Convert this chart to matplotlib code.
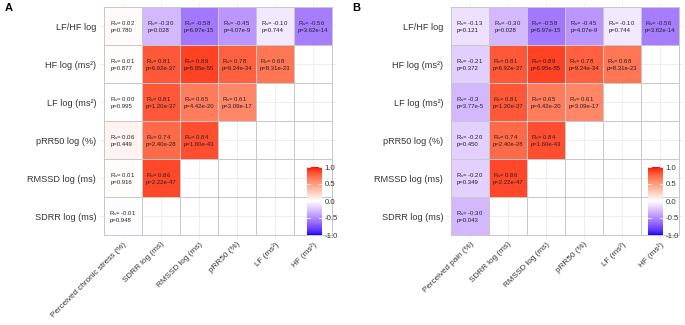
import numpy as np
import matplotlib
matplotlib.use('Agg')
import matplotlib.pyplot as plt
from matplotlib.colors import ListedColormap

plt.rcParams['font.family'] = ['Liberation Sans', 'DejaVu Sans']

# rows top -> bottom
row_labels = ['LF/HF log', 'HF log (ms²)', 'LF log (ms²)', 'pRR50 log (%)',
              'RMSSD log (ms)', 'SDRR log (ms)']
col_labels_a = ['Perceived chronic stress (%)', 'SDRR log (ms)', 'RMSSD log (ms)',
                'pRR50 (%)', 'LF (ms²)', 'HF (ms²)']
col_labels_b = ['Perceived pain (%)', 'SDRR log (ms)', 'RMSSD log (ms)',
                'pRR50 (%)', 'LF (ms²)', 'HF (ms²)']

# HRV x HRV part (same in both panels), row by row
r_hrv = [['-0.30', '-0.58', '-0.45', '-0.10', '-0.56'],
         ['0.81', '0.89', '0.78', '0.68'],
         ['0.81', '0.65', '0.61'],
         ['0.74', '0.84'],
         ['0.86'],
         []]
p_hrv = [['0.028', '6.97e-15', '4.07e-9', '0.744', '3.62e-14'],
         ['6.92e-37', '6.95e-55', '9.24e-34', '8.31e-23'],
         ['1.20e-37', '4.42e-20', '3.09e-17'],
         ['2.40e-28', '1.60e-43'],
         ['2.22e-47'],
         []]

# first column
r_stress = ['0.02', '0.01', '0.00', '0.06', '0.01', '-0.01']
p_stress = ['0.780', '0.877', '0.995', '0.449', '0.916', '0.948']
r_pain = ['-0.13', '-0.21', '-0.3', '-0.20', '-0.20', '-0.30']
p_pain = ['0.121', '0.372', '3.77e-5', '0.450', '0.349', '0.043']


# blue - white - red gradient interpolated in Lab (like ggplot gradient2)
def srgb2lab(c):
    c = np.asarray(c, float)
    lin = np.where(c <= 0.04045, c / 12.92, ((c + 0.055) / 1.055) ** 2.4)
    M = np.array([[0.4124, 0.3576, 0.1805], [0.2126, 0.7152, 0.0722], [0.0193, 0.1192, 0.9505]])
    xyz = M @ lin / np.array([0.95047, 1.0, 1.08883])
    f = np.where(xyz > 0.008856, np.cbrt(xyz), 7.787 * xyz + 16 / 116)
    return np.array([116 * f[1] - 16, 500 * (f[0] - f[1]), 200 * (f[1] - f[2])])


def lab2srgb(lab):
    L, a, b = lab
    fy = (L + 16) / 116
    fx = fy + a / 500
    fz = fy - b / 200
    f = np.array([fx, fy, fz])
    xyz = np.where(f ** 3 > 0.008856, f ** 3, (f - 16 / 116) / 7.787) * np.array([0.95047, 1.0, 1.08883])
    Mi = np.array([[3.2406, -1.5372, -0.4986], [-0.9689, 1.8758, 0.0415], [0.0557, -0.2040, 1.0570]])
    lin = np.clip(Mi @ xyz, 0, 1)
    c = np.where(lin <= 0.0031308, 12.92 * lin, 1.055 * lin ** (1 / 2.4) - 0.055)
    return np.clip(c, 0, 1)


blue, white, red = srgb2lab([0, 0, 1]), srgb2lab([1, 1, 1]), srgb2lab([1, 0, 0])
cols = []
for t in np.linspace(-1, 1, 256):
    if t < 0:
        lab = white + (blue - white) * (-t)
    else:
        lab = white + (red - white) * t
    cols.append(lab2srgb(lab))
cmap = ListedColormap(cols)

W, H = 685, 325
fig = plt.figure(figsize=(W / 100, H / 100), dpi=100)
txt_col = '#333333'


def panel(tile_left, cbar_left, first_r, first_p, col_labels, tag):
    cell = 38
    top = 7
    x0 = tile_left - 0.1 * cell
    x1 = tile_left + 6 * cell + 0.1 * cell
    y0 = top - 0.1 * cell
    y1 = top + 6 * cell + 0.1 * cell
    ax = fig.add_axes([x0 / W, 1 - y1 / H, (x1 - x0) / W, (y1 - y0) / H])
    ax.set_xlim(-0.6, 5.6)
    ax.set_ylim(-0.6, 5.6)

    vals = np.full((6, 6), np.nan)
    for r in range(6):
        y = 5 - r
        rr = [first_r[r]] + r_hrv[r]
        pp = [first_p[r]] + p_hrv[r]
        for c in range(len(rr)):
            vals[y, c] = float(rr[c])
            ax.text(c, y, 'R$_\\mathregular{s}$= ' + rr[c] + '\np=' + pp[c],
                    ha='center', va='center', multialignment='left',
                    fontsize=4.3, color='#222222', linespacing=1.15, zorder=3)
    edges = np.arange(-0.5, 6, 1)
    ax.pcolormesh(edges, edges, np.ma.masked_invalid(vals), cmap=cmap, vmin=-1, vmax=1,
                  edgecolors='#C8C8C8', linewidth=0.6, zorder=2)

    ax.set_xticks(range(6))
    ax.set_xticklabels(col_labels, rotation=45, ha='right', va='top',
                       rotation_mode='anchor', fontsize=5.9, color=txt_col)
    ax.set_yticks(range(6))
    ax.set_yticklabels(row_labels[::-1], fontsize=6.6, color=txt_col)
    ax.tick_params(axis='y', length=0, pad=3)
    ax.tick_params(axis='x', length=0, pad=1.5)
    for s in ax.spines.values():
        s.set_visible(False)
    ax.grid(color='#EBEBEB', lw=0.6, zorder=0)
    ax.set_axisbelow(True)

    # colour bar
    cax = fig.add_axes([cbar_left / W, 1 - 235 / H, 15 / W, 68 / H])
    grad = np.linspace(-1, 1, 256).reshape(-1, 1)
    cax.imshow(grad, cmap=cmap, vmin=-1, vmax=1, aspect='auto', origin='lower',
               extent=[0, 1, -1, 1])
    ticks = [-1.0, -0.5, 0.0, 0.5, 1.0]
    for t in ticks:
        cax.plot([0, 0.2], [t, t], color='white', lw=0.6)
        cax.plot([0.8, 1], [t, t], color='white', lw=0.6)
    cax.set_xlim(0, 1)
    cax.set_ylim(-1, 1)
    cax.set_xticks([])
    cax.yaxis.tick_right()
    cax.set_yticks(ticks)
    cax.set_yticklabels(['%.1f' % t for t in ticks], fontsize=5.6, color=txt_col)
    cax.tick_params(length=0, pad=2)
    for s in cax.spines.values():
        s.set_visible(False)

    fig.text((tile_left - 99) / W, 1 - 8 / H, tag, fontsize=8, fontweight='bold',
             ha='left', va='center')


panel(104, 307, r_stress, p_stress, col_labels_a, 'A')
panel(451, 648, r_pain, p_pain, col_labels_b, 'B')

fig.savefig('out.png', dpi=100)
